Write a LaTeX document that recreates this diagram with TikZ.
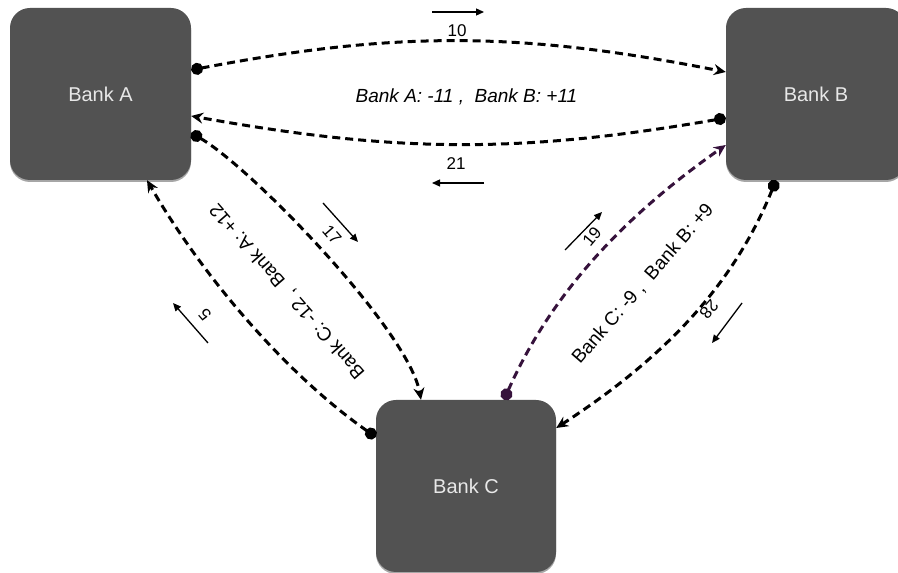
\documentclass[tikz,border=0pt]{standalone}
\usepackage{fontspec}
\setmainfont{Liberation Sans}
\usetikzlibrary{arrows.meta,shadows}
\definecolor{boxgray}{HTML}{525252}
\definecolor{boxtext}{HTML}{E8E8E8}
\definecolor{darkpurple}{HTML}{36123C}
\begin{document}
\begin{tikzpicture}[x=1pt,y=1pt,
  bank/.style={rectangle, rounded corners=20pt, fill=boxgray, text=boxtext,
    font=\fontsize{20}{24}\selectfont, minimum height=172pt, inner sep=0pt,
    drop shadow={shadow xshift=0pt,shadow yshift=-2pt,opacity=0.35,fill=black}},
  flow/.style={line width=3pt, dash pattern=on 8pt off 5pt,
    {Circle[length=12pt]}-{Stealth[length=12pt,width=11pt,inset=4pt]}},
  lbl/.style={font=\fontsize{19}{22}\selectfont, inner sep=0pt},
  num/.style={font=\fontsize{17}{20}\selectfont, inner sep=0pt},
  small/.style={line width=1.3pt, -{Triangle[length=8pt,width=7pt]}}]
\useasboundingbox (0,0) rectangle (898,573);
\node[bank, minimum width=181pt] (A) at (100.5,479) {Bank A};
\node[bank, minimum width=180pt] (B) at (816,479) {Bank B};
\node[bank, minimum width=180pt] (C) at (466,87) {Bank C};
% connectors
\draw[flow] ([yshift=24pt]A.east) to[bend left=11] ([yshift=22pt]B.west);
\draw[flow] ([yshift=-24pt]B.west) to[bend left=10] ([yshift=-22pt]A.east);
\draw[flow] ([yshift=-39pt]A.east) .. controls +(-30:70) and +(100:70) .. ([xshift=-45pt]C.north);
\draw[flow] ([yshift=49pt]C.west) .. controls +(145:110) and +(-60:110) .. ([xshift=46.5pt]A.south);
\draw[flow, darkpurple] ([xshift=38pt]C.north) .. controls +(66:120) and +(215:120) .. ([yshift=-51pt]B.west);
\draw[flow] ([xshift=-40pt]B.south) .. controls +(248:120) and +(33:120) .. ([yshift=58pt]C.east);
% labels
\node[lbl, font=\fontsize{19}{22}\selectfont\itshape] (lAB) at (466.5,476) {Bank A: -11 ,\ \ Bank B: +11};
\node[lbl, rotate=131] (lCA) at (287.5,282) {Bank C: -12 ,\ \ Bank A: +12};
\node[lbl, rotate=49] (lCB) at (643,289) {Bank C: -9 ,\ \ Bank B: +9};
\node[num] (n10) at (457,542.5) {10};
\node[num] (n21) at (456,409) {21};
\node[num, rotate=-49] (n17) at (332,338) {17};
\node[num, rotate=131] (n5) at (205,258) {5};
\node[num, rotate=50] (n19) at (592,336) {19};
\node[num, rotate=-131] (n28) at (709,264) {28};
% direction arrows
\coordinate (s10) at (432,561); \coordinate (e10) at (484,561);
\coordinate (s21) at (484,390); \coordinate (e21) at (432,390);
\coordinate (s17) at (323,370); \coordinate (e17) at (358,331);
\coordinate (s5) at (208,230);  \coordinate (e5) at (173,270);
\coordinate (s19) at (565,323); \coordinate (e19) at (602,361);
\coordinate (s28) at (742,270); \coordinate (e28) at (712,230);
\draw[small] (s10) -- (e10);
\draw[small] (s21) -- (e21);
\draw[small] (s17) -- (e17);
\draw[small] (s5) -- (e5);
\draw[small] (s19) -- (e19);
\draw[small] (s28) -- (e28);
\end{tikzpicture}
\end{document}
